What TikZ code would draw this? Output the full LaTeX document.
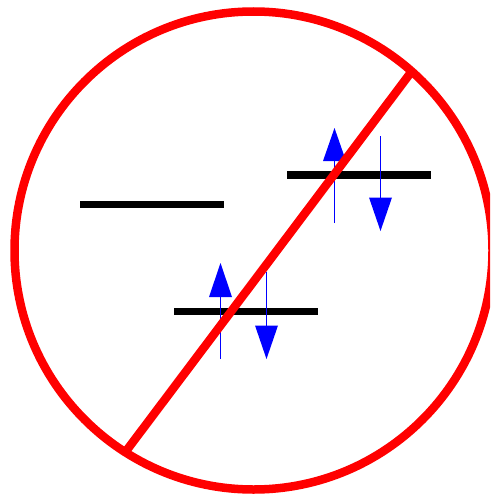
\documentclass[tikz,border=0pt]{standalone}
\definecolor{ringred}{RGB}{255,0,0}
\definecolor{spinblue}{RGB}{0,0,255}
\tikzset{
  levelbar/.style={draw=black,line width=7.8pt},
  spinline/.style={draw=spinblue,line width=1pt},
  spinhead/.style={fill=spinblue,draw=none},
  slash/.style={draw=ringred,line width=8.5pt}
}
\begin{document}
\begin{tikzpicture}[x=1pt,y=-1pt]
\useasboundingbox (0,0) rectangle (490,495);
\clip (0,0) rectangle (490,495);
\fill[white] (0,0) rectangle (490,495);
% energy levels
\draw[levelbar] (80,204.5) -- (224,204.5);
\draw[levelbar] (287,175) -- (431,175);
\draw[levelbar] (174,311.5) -- (318,311.5);
% spins, lower level
\draw[spinline] (220.5,359) -- (220.5,296);
\fill[spinhead] (220.5,263) -- (232,297) -- (209,297) -- cycle;
\draw[spinline] (266.5,272) -- (266.5,326);
\fill[spinhead] (266.5,359) -- (255,325.5) -- (278,325.5) -- cycle;
% spins, upper level
\draw[spinline] (334.5,223) -- (334.5,160);
\fill[spinhead] (334.5,128) -- (346,161) -- (323,161) -- cycle;
\draw[spinline] (380.5,136) -- (380.5,198);
\fill[spinhead] (380.5,231) -- (392,197.5) -- (369,197.5) -- cycle;
% prohibition sign
\draw[slash] (253.5,250.5) circle (239);
\draw[slash] (412,71) -- (123.5,454.5);
\end{tikzpicture}
\end{document}
